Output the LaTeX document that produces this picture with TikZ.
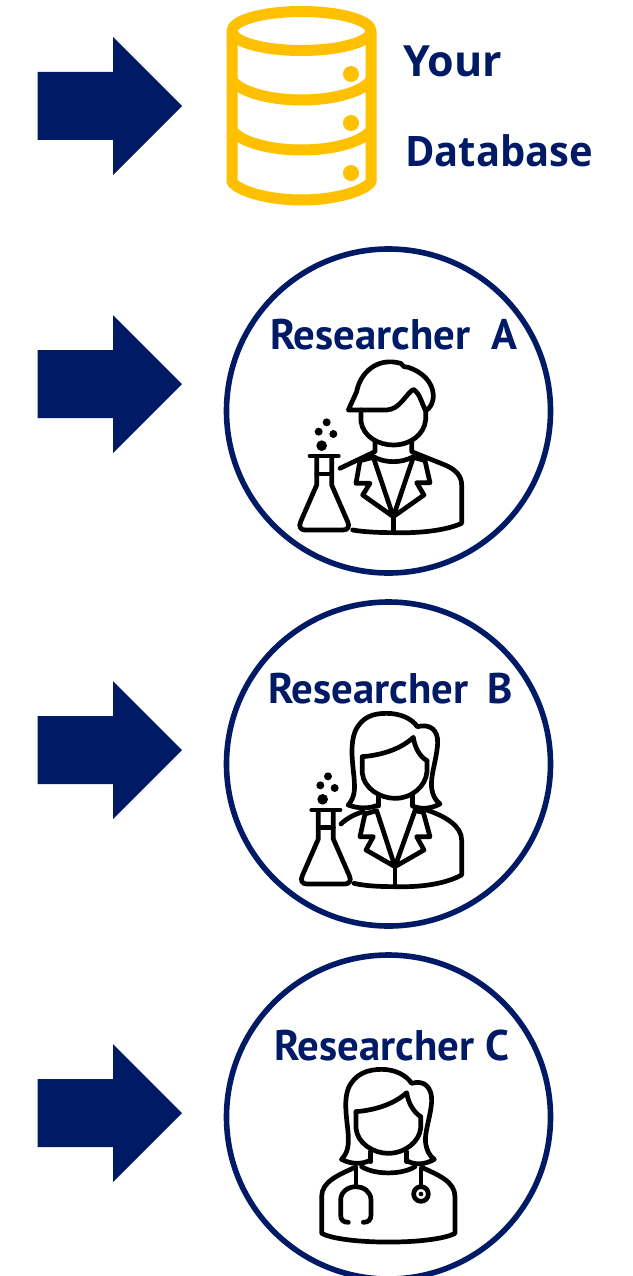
\documentclass[tikz,border=0pt]{standalone}
\usepackage{fontspec}
\setmainfont{PT Sans}
\newfontfamily\dbfont{Open Sans}
\newfontfamily\dbfontnarrow[FakeStretch=0.95]{Open Sans}
\definecolor{navy}{HTML}{001A66}
\definecolor{gold}{HTML}{FFC000}
\tikzset{
  bigarrow/.style={fill=navy,draw=none},
  ringshape/.style={draw=navy,line width=5.6pt},
  dbline/.style={draw=gold,line width=11pt,line join=round},
  dbdot/.style={fill=gold,draw=none},
  iconline/.style={draw=black,line width=4.7pt,line join=round,line cap=round},
  dot/.style={fill=black,draw=none},
  reslabel/.style={anchor=base west,inner sep=0pt,text=navy,font=\bfseries\fontsize{42.8}{44}\selectfont},
  dblabel/.style={anchor=base west,inner sep=0pt,text=navy,font=\dbfont\bfseries\fontsize{43}{44}\selectfont},
  dblabelnarrow/.style={anchor=base west,inner sep=0pt,text=navy,font=\dbfontnarrow\bfseries\fontsize{42}{44}\selectfont},
  zoomed/.style={x=0.3333pt,y=-0.3333pt}
}
\begin{document}
\begin{tikzpicture}[x=1pt,y=-1pt]
\useasboundingbox (0,0) rectangle (632,1276);
\fill[white] (0,0) rectangle (632,1276);
% arrows
\foreach \c in {106,384,750,1113}{
  \path[bigarrow] (37.5,\c-34) -- (113,\c-34) -- (113,\c-69) -- (182,\c) -- (113,\c+69) -- (113,\c+34) -- (37.5,\c+34) -- cycle;
}
% database
\begin{scope}
\clip (0,0) rectangle (632,1276);
\path[dbline] (301.5,31) ellipse [x radius=69.5,y radius=19.5];
\path[dbline] (232,31) -- (232,182) .. controls (240,192) and (270,200) .. (301.5,200) .. controls (333,200) and (363,192) .. (371,182) -- (371,31);
\path[dbline] (232,80) .. controls (240,92) and (270,100) .. (301.5,100) .. controls (333,100) and (363,92) .. (371,80);
\path[dbline] (232,130) .. controls (240,142) and (270,150) .. (301.5,150) .. controls (333,150) and (363,142) .. (371,130);
\end{scope}
\foreach \c in {74,123,173}{\path[dbdot] (351,\c) circle (8);}
\node[dblabel] (your) at (403,77) {Your};
\node[dblabelnarrow] (database) at (405,167) {Database};
% rings (the last one runs off the page)
\begin{scope}
\clip (0,0) rectangle (632,1276);
\path[ringshape] (388.5,411) circle (162);
\path[ringshape] (388.5,764) circle (162);
\path[ringshape] (388.5,1117) circle (162);
\end{scope}
\node[reslabel] (resA) at (270,349) {Researcher\hspace{0.49em}A};
\node[reslabel] (resB) at (268,703) {Researcher\hspace{0.45em}B};
\node[reslabel] (resC) at (274,1060) {Researcher C};
% researcher A
\begin{scope}[shift={(280,350)},zoomed]
\path[iconline] (205,180) -- (320,180) .. controls (360,178) and (375,135) .. (400,118) .. controls (420,130) and (425,160) .. (437,182) .. controls (450,175) and (460,160) .. (460,135) .. controls (458,95) and (425,65) .. (385,52) -- (372,50) -- (362,40) .. controls (290,20) and (240,70) .. (230,125) -- cycle;
\path[iconline] (243,180) -- (243,215) .. controls (250,260) and (295,285) .. (340,285) .. controls (390,285) and (432,255) .. (437,210) -- (437,182);
\path[iconline] (285,272) -- (285,305) -- (180,355);
\path[iconline] (395,272) -- (395,305) -- (495,345) .. controls (530,360) and (545,380) .. (545,405) -- (545,520) .. controls (490,545) and (400,550) .. (340,548) .. controls (300,548) and (250,546) .. (218,540);
\path[iconline] (280,320) .. controls (315,340) and (365,340) .. (400,320);
\path[iconline] (280,322) -- (240,332) -- (228,400) -- (270,400) -- (248,435) -- (340,500) -- cycle;
\path[iconline] (400,322) -- (435,332) -- (450,398) -- (410,398) -- (432,435) -- (340,500) -- cycle;
\path[iconline] (340,500) -- (340,546);
\path[iconline] (90,318) -- (175,318);
\path[iconline] (110,320) -- (110,405) -- (62,515) .. controls (55,530) and (62,540) .. (75,540) -- (190,540) .. controls (203,540) and (210,530) .. (203,515) -- (155,405) -- (155,320);
\path[iconline] (110,372) -- (155,372);
\path[dot] (125,287) circle (16);
\path[dot] (116,245) circle (12);
\path[dot] (140,217) circle (12);
\path[dot] (160,252) circle (12);
\end{scope}
% researcher B
\begin{scope}[shift={(280,700)},zoomed]
\path[iconline] (205,315) .. controls (225,290) and (225,270) .. (222,230) .. controls (215,170) and (212,130) .. (225,95) .. controls (245,50) and (280,40) .. (320,40) .. controls (360,40) and (395,55) .. (412,80) .. controls (450,70) and (475,90) .. (473,130) .. controls (470,180) and (450,230) .. (455,265) .. controls (458,285) and (465,300) .. (480,312) .. controls (455,325) and (425,330) .. (398,318);
\path[iconline] (205,315) .. controls (230,325) and (265,328) .. (295,315);
\path[iconline] (247,170) .. controls (310,165) and (365,145) .. (400,112) .. controls (405,145) and (420,170) .. (441,182);
\path[iconline] (247,170) -- (247,220) .. controls (252,265) and (300,295) .. (345,295) .. controls (395,295) and (437,260) .. (441,215) -- (441,182);
\path[iconline] (295,285) -- (295,318);
\path[iconline] (398,285) -- (398,318);
\path[iconline] (183,372) .. controls (200,355) and (225,342) .. (250,335);
\path[iconline] (440,330) .. controls (500,350) and (545,380) .. (545,420) -- (545,525) .. controls (490,555) and (410,562) .. (345,560) .. controls (300,560) and (255,558) .. (222,550);
\path[iconline] (290,332) -- (255,342) -- (240,410) -- (280,410) -- (258,450) -- (345,500) -- cycle;
\path[iconline] (405,332) -- (430,337) -- (450,410) -- (410,410) -- (432,450) -- (345,500) -- cycle;
\path[iconline] (345,500) -- (345,558);
\path[iconline] (95,330) -- (180,330);
\path[iconline] (115,332) -- (115,417) -- (67,527) .. controls (60,542) and (67,552) .. (80,552) -- (195,552) .. controls (208,552) and (215,542) .. (208,527) -- (160,417) -- (160,332);
\path[iconline] (115,382) -- (160,382);
\path[dot] (128,298) circle (16);
\path[dot] (121,256) circle (12);
\path[dot] (144,229) circle (12);
\path[dot] (164,264) circle (12);
\end{scope}
% researcher C
\begin{scope}[shift={(300,1060)},zoomed]
\path[iconline] (125,298) .. controls (145,275) and (147,255) .. (144,215) .. controls (138,160) and (132,120) .. (145,85) .. controls (165,40) and (205,28) .. (245,28) .. controls (285,28) and (318,45) .. (335,70) .. controls (375,58) and (397,85) .. (395,125) .. controls (392,170) and (372,220) .. (377,250) .. controls (380,270) and (388,288) .. (403,298) .. controls (378,312) and (348,318) .. (320,302);
\path[iconline] (125,298) .. controls (150,312) and (185,315) .. (212,300);
\path[iconline] (168,155) .. controls (230,150) and (285,130) .. (320,98) .. controls (325,130) and (340,155) .. (362,170);
\path[iconline] (168,155) -- (168,205) .. controls (172,250) and (220,280) .. (265,280) .. controls (315,280) and (358,245) .. (362,205) -- (362,170);
\path[iconline] (212,275) -- (212,305);
\path[iconline] (320,275) -- (320,305);
\path[iconline] (185,320) .. controls (225,345) and (305,345) .. (345,320);
\path[iconline] (165,322) .. controls (115,345) and (65,365) .. (65,410) -- (65,520) .. controls (130,555) and (400,555) .. (465,520) -- (465,410) .. controls (465,365) and (415,345) .. (365,322);
\path[iconline] (168,322) -- (168,380);
\path[iconline] (145,487) .. controls (130,487) and (122,480) .. (122,465) -- (122,420) .. controls (122,395) and (145,380) .. (168,380) .. controls (190,380) and (213,395) .. (213,420) -- (213,465) .. controls (213,480) and (205,487) .. (190,487);
\path[iconline] (363,325) -- (363,380);
\path[iconline] (363,402) circle (22);
\path[dot] (363,402) circle (7);
\end{scope}
\end{tikzpicture}
\end{document}
